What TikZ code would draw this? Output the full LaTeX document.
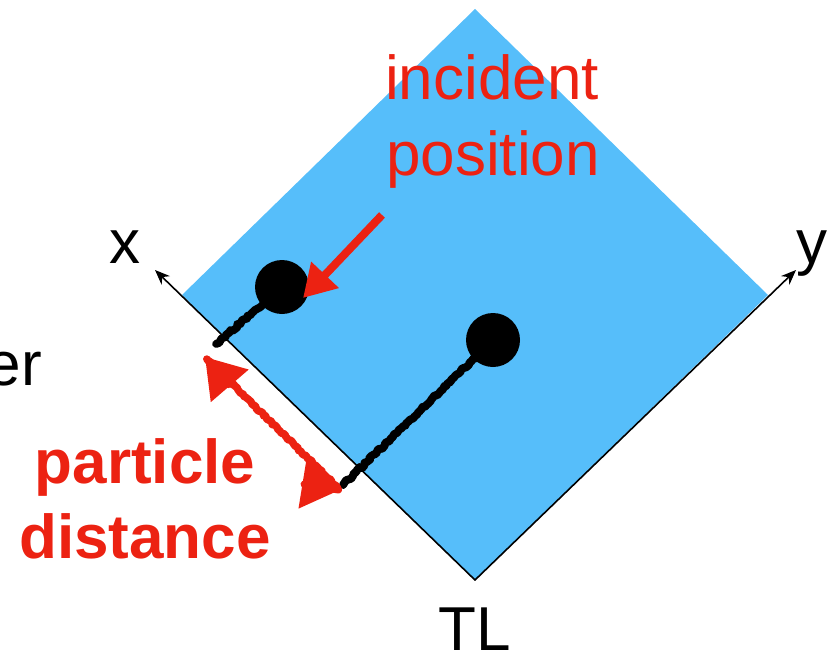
\documentclass[tikz,border=0pt]{standalone}
\usepackage{fontspec}
\setmainfont{Liberation Sans}
\usetikzlibrary{arrows.meta,decorations.pathmorphing}
\definecolor{sheetblue}{RGB}{86,190,250}
\definecolor{keyred}{RGB}{236,34,18}
\tikzset{
  lbl/.style={inner sep=0pt, anchor=base, font=\fontsize{62bp}{70bp}\selectfont},
  redlbl/.style={lbl, text=keyred},
  boldlbl/.style={redlbl, font=\fontsize{62bp}{70bp}\selectfont\bfseries},
  axis/.style={line width=1.6bp, -{Stealth[length=15bp,width=12bp]}},
  sketch/.style={decorate, decoration={random steps, segment length=2.5bp, amplitude=1.2bp}},
  pencil/.style={sketch, line width=8bp, black},
  dot/.style={circle, fill=black, minimum size=54bp, inner sep=0pt},
}
\begin{document}
\begin{tikzpicture}[x=1bp, y=-1bp, line join=round, line cap=round]
  \useasboundingbox (0,0) rectangle (836,654);
  \coordinate (O) at (475,580);
  \coordinate (L) at (182,295);
  \coordinate (T) at (475,9);
  \coordinate (R) at (768,295);
  \coordinate (X) at (155,270);
  \coordinate (Y) at (796,270);

  \fill[sheetblue] (O) -- (L) -- (T) -- (R) -- cycle;
  \draw[axis] (O) -- (X);
  \draw[axis] (O) -- (Y);

  % particles and their feet on the x axis
  \node[dot] (p1) at (282,287) {};
  \node[dot] (p2) at (493,340) {};
  \coordinate (f1) at (216,344);
  \coordinate (f2) at (343,485);
  \draw[pencil] (p1.center) -- (f1);
  \draw[pencil] (p2.center) -- (f2);

  % arrows
  \coordinate (a0) at (382,215);
  \coordinate (a1) at (303,298);
  \draw[keyred, line width=8bp, line cap=butt, -{Triangle[length=32bp,width=36bp]}] (a0) -- (a1);
  \coordinate (d1) at (205,357);
  \coordinate (d2) at (340,490);
  \draw[keyred, sketch, line width=7.5bp, {Triangle[length=38bp,width=48bp]}-{Triangle[length=38bp,width=48bp]}] (d1) -- (d2);

  \node[lbl] (xlbl) at (125,263) {x};
  \node[lbl] (ylbl) at (812,263) {y};
  \node[lbl] (tl) at (475,650) {TL};
  \node[lbl, anchor=base east] (er) at (42,385) {er};
  \node[redlbl, anchor=base west] (inc1) at (385,100) {incident};
  \node[redlbl, anchor=base west] (inc2) at (386,175) {position};
  \node[boldlbl] (pd1) at (145,483) {particle};
  \node[boldlbl] (pd2) at (145,558) {distance};
\end{tikzpicture}
\end{document}
